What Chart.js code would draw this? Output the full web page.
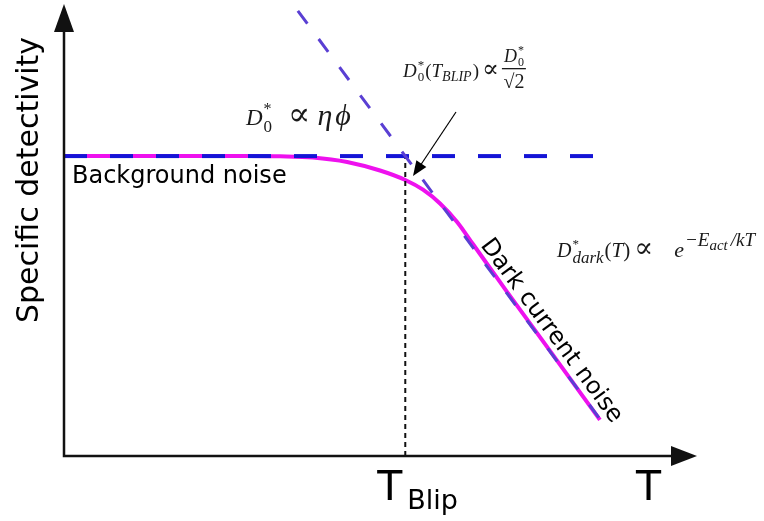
<!DOCTYPE html>
<html>
<head>
<meta charset="utf-8">
<script src="https://cdn.jsdelivr.net/npm/chart.js@4"></script>
<style>
  html, body { margin: 0; padding: 0; background: #fff; }
  canvas { display: block; }
</style>
</head>
<body>
<canvas id="c" width="764" height="521"></canvas>
<script>
// Detectivity vs temperature (arbitrary units)
const curveT = [0, 2.94, 3.42, 3.94, 4.48, 5.00, 5.40, 5.68, 5.95, 6.22, 6.47, 6.74, 7.01, 7.69, 8.48];
const curveD = [6.65, 6.65, 6.645, 6.62, 6.52, 6.33, 6.12, 5.905, 5.60, 5.19, 4.70, 4.17, 3.64, 2.33, 0.80];
// Background-limited plateau
const backgroundT = [0, 8.42];
const backgroundD = [6.65, 6.65];
// Dark-current-limited asymptote
const darkT = [3.70, 8.50];
const darkD = [9.87, 0.78];
// BLIP temperature marker
const blipT = [5.40, 5.40];
const blipD = [0, 6.65];

const pts = (xs, ys) => xs.map((x, i) => ({ x, y: ys[i] }));

const SANS = '"DejaVu Sans", sans-serif';
const SERIF = '"Liberation Serif", "DejaVu Serif", serif';
const SYMB = '"DejaVu Serif", serif';

function font(p) {
  return (p.i ? 'italic ' : '') + p.s + 'px ' + (p.f || SERIF);
}

// Draws a row of math pieces; a piece may carry a stacked super/subscript pair.
function mathRow(ctx, x, y, pieces) {
  for (const p of pieces) {
    if (p.stack) {
      let w = 0;
      for (const q of p.stack) {
        ctx.font = font(q);
        ctx.fillText(q.t, x, y + (q.dy || 0));
        w = Math.max(w, ctx.measureText(q.t).width);
      }
      x += w + (p.gap || 0);
    } else {
      ctx.font = font(p);
      ctx.fillText(p.t, x, y + (p.dy || 0));
      x += ctx.measureText(p.t).width + (p.gap || 0);
    }
  }
  return x;
}

function rowWidth(ctx, pieces) {
  ctx.save();
  ctx.globalAlpha = 0;
  const w = mathRow(ctx, 0, 0, pieces);
  ctx.restore();
  return w;
}

function arrowHead(ctx, tipX, tipY, fromX, fromY, len, half) {
  const a = Math.atan2(tipY - fromY, tipX - fromX);
  const bx = tipX - len * Math.cos(a), by = tipY - len * Math.sin(a);
  ctx.beginPath();
  ctx.moveTo(tipX, tipY);
  ctx.lineTo(bx + half * Math.sin(a), by - half * Math.cos(a));
  ctx.lineTo(bx - half * Math.sin(a), by + half * Math.cos(a));
  ctx.closePath();
  ctx.fill();
}

const annotations = {
  id: 'annotations',
  afterDraw(chart) {
    const ctx = chart.ctx;
    const xs = chart.scales.x, ys = chart.scales.y;
    const area = chart.chartArea;
    ctx.save();

    // Axes with arrow heads
    ctx.strokeStyle = '#111';
    ctx.fillStyle = '#111';
    ctx.lineWidth = 2.5;
    ctx.beginPath();
    ctx.moveTo(area.left, area.top + 20);
    ctx.lineTo(area.left, area.bottom);
    ctx.lineTo(area.right - 20, area.bottom);
    ctx.stroke();
    arrowHead(ctx, area.left, area.top - 1, area.left, area.bottom, 28, 10);
    arrowHead(ctx, area.right + 1, area.bottom, area.left, area.bottom, 26, 10);

    // Axis titles
    ctx.fillStyle = '#000';
    ctx.font = '30px ' + SANS;
    ctx.textAlign = 'center';
    ctx.textBaseline = 'alphabetic';
    ctx.save();
    ctx.translate(38, 180);
    ctx.rotate(-Math.PI / 2);
    ctx.fillText('Specific detectivity', 0, 0);
    ctx.restore();

    ctx.textAlign = 'left';
    ctx.font = '41px ' + SANS;
    ctx.fillText('T', 636, 500);
    const bx = xs.getPixelForValue(blipT[0]);
    ctx.fillText('T', bx - 28, 500);
    ctx.font = '27px ' + SANS;
    ctx.fillText('Blip', bx + 2, 509);

    // Curve labels
    ctx.font = '24px ' + SANS;
    ctx.fillText('Background noise', area.left + 8, 183);

    const x0 = xs.getPixelForValue(darkT[0]), y0 = ys.getPixelForValue(darkD[0]);
    const x1 = xs.getPixelForValue(darkT[1]), y1 = ys.getPixelForValue(darkD[1]);
    const ang = Math.atan2(y1 - y0, x1 - x0);
    const t = 0.80;
    const mx = x0 + (x1 - x0) * t, my = y0 + (y1 - y0) * t;
    ctx.save();
    ctx.translate(mx + 7 * Math.sin(ang), my - 7 * Math.cos(ang));
    ctx.rotate(ang);
    ctx.textAlign = 'center';
    ctx.fillText('Dark current noise', 0, 0);
    ctx.restore();

    // Formulas
    ctx.fillStyle = '#1a1a1a';
    ctx.textAlign = 'left';
    mathRow(ctx, 246, 125, [
      { t: 'D', s: 23, i: true, gap: 1 },
      { stack: [{ t: '*', s: 16, dy: -11 }, { t: '0', s: 17, dy: 7 }], gap: 16 },
      { t: '\u221D', s: 33, f: SYMB, gap: 7 },
      { t: '\u03B7', s: 30, i: true, gap: 3 },
      { t: '\u03D5', s: 30, i: true }
    ]);

    const fx = mathRow(ctx, 403, 77, [
      { t: 'D', s: 19, i: true, gap: 1 },
      { stack: [{ t: '*', s: 13, dy: -8 }, { t: '0', s: 13, dy: 4 }], gap: 1 },
      { t: '(', s: 19 },
      { t: 'T', s: 19, i: true },
      { t: 'BLIP', s: 14, i: true, dy: 4, gap: 1 },
      { t: ')', s: 19, gap: 3 },
      { t: '\u221D', s: 25, f: SYMB, gap: 3 }
    ]);
    const num = [
      { t: 'D', s: 18, i: true, gap: 1 },
      { stack: [{ t: '*', s: 12, dy: -8 }, { t: '0', s: 12, dy: 4 }] }
    ];
    const den = [{ t: '\u221A2', s: 20 }];
    const nw = rowWidth(ctx, num), dw = rowWidth(ctx, den);
    const fw = Math.max(nw, dw) + 3;
    mathRow(ctx, fx + (fw - nw) / 2, 62, num);
    mathRow(ctx, fx + (fw - dw) / 2, 88, den);
    ctx.fillRect(fx, 68, fw, 1.3);

    mathRow(ctx, 557, 257, [
      { t: 'D', s: 20, i: true, gap: 1 },
      { stack: [{ t: '*', s: 13, dy: -9 }, { t: 'dark', s: 17, i: true, dy: 6 }], gap: 1 },
      { t: '(', s: 21 },
      { t: 'T', s: 21, i: true },
      { t: ')', s: 21, gap: 4 },
      { t: '\u221D', s: 28, f: SYMB, gap: 21 },
      { t: 'e', s: 22, i: true, gap: 1 },
      { t: '\u2212E', s: 19, i: true, dy: -11 },
      { t: 'act', s: 15, i: true, dy: -7, gap: 3 },
      { t: '/kT', s: 19, i: true, dy: -11 }
    ]);

    // Pointer to the BLIP crossing
    ctx.strokeStyle = '#000';
    ctx.fillStyle = '#000';
    ctx.lineWidth = 1.2;
    const tipX = 413, tipY = 176;
    ctx.beginPath();
    ctx.moveTo(456, 112);
    ctx.lineTo(tipX + 5, tipY - 7);
    ctx.stroke();
    arrowHead(ctx, tipX, tipY, 456, 112, 15, 6);

    ctx.restore();
  }
};

new Chart(document.getElementById('c'), {
  type: 'scatter',
  data: {
    datasets: [
      {
        label: 'BLIP temperature',
        data: pts(blipT, blipD),
        showLine: true,
        borderColor: '#111',
        borderWidth: 2,
        borderDash: [5, 4],
        pointRadius: 0,
        order: 2
      },
      {
        label: 'Dark current limit',
        data: pts(darkT, darkD),
        showLine: true,
        borderColor: '#5a3fd3',
        borderWidth: 3,
        borderDash: [16, 19],
        pointRadius: 0,
        order: 0
      },
      {
        label: 'Background limit',
        data: pts(backgroundT, backgroundD),
        showLine: true,
        borderColor: '#1414d6',
        borderWidth: 4,
        borderDash: [23, 23],
        pointRadius: 0,
        order: 1
      },
      {
        label: 'Detectivity',
        data: pts(curveT, curveD),
        showLine: true,
        borderColor: '#ee11ee',
        borderWidth: 4,
        cubicInterpolationMode: 'monotone',
        pointRadius: 0,
        order: 3
      }
    ]
  },
  options: {
    responsive: false,
    animation: false,
    layout: { padding: { left: 64, right: 68, top: 5, bottom: 65 } },
    plugins: { legend: { display: false }, tooltip: { enabled: false } },
    scales: {
      x: { type: 'linear', min: 0, max: 10, display: false },
      y: { type: 'linear', min: 0, max: 10, display: false }
    }
  },
  plugins: [annotations]
});
</script>
</body>
</html>
